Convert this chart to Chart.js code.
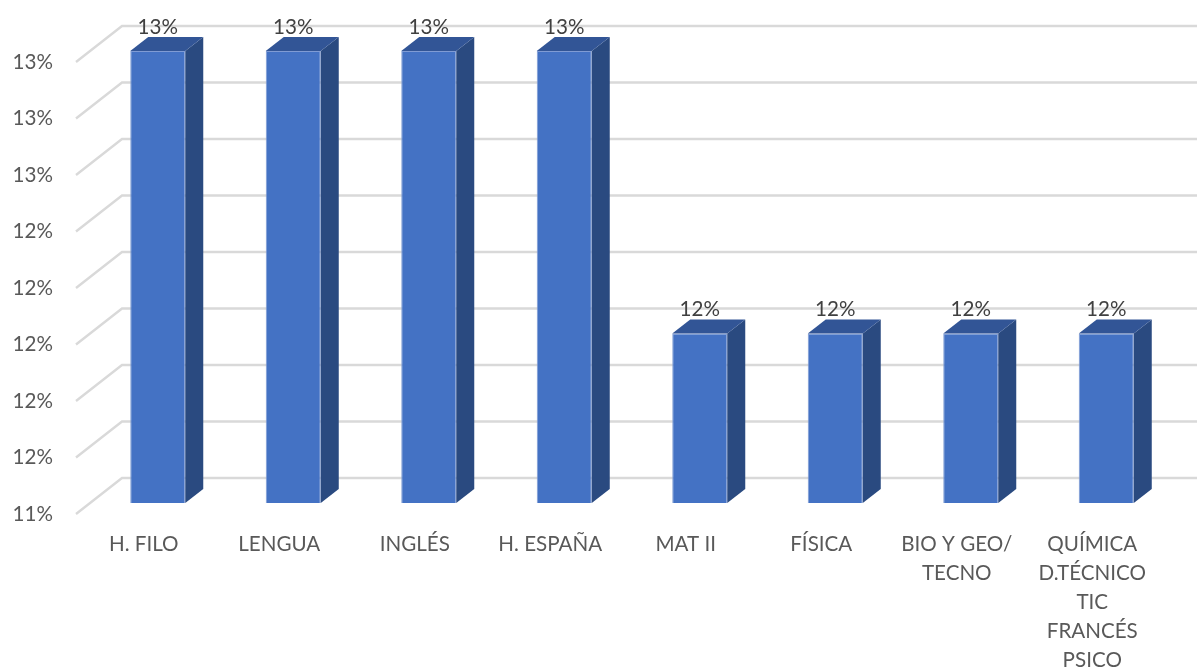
<!DOCTYPE html>
<html lang="es">
<head>
    <meta charset="UTF-8" />
    <title>Asignaturas</title>
    <script src="https://cdn.jsdelivr.net/npm/chart.js"></script>
    <style>
        body { margin: 0; background: white; }
        canvas { display: block; }
    </style>
</head>
<body>
    <canvas id="chart" width="1197" height="671"></canvas>
    <script>
        const categories = [
            "H. FILO", "LENGUA", "INGLÉS", "H. ESPAÑA", "MAT II", "FÍSICA",
            ["BIO Y GEO/", "TECNO"],
            ["QUÍMICA", "D.TÉCNICO", "TIC", "FRANCÉS", "PSICO"]
        ];
        const values = [13, 13, 13, 13, 12, 12, 12, 12];
        const axisMin = 11.4;
        const axisMax = 13;
        const axisStep = 0.2;

        // fake 3D: the chart area is the front plane, wall sits behind it
        const wallDx = 46, wallDy = -36;
        const barDx = 14, barDy = -11;
        const depthX = 18, depthY = -14;

        const wall3d = {
            id: "wall3d",
            beforeDatasetsDraw(chart) {
                const ctx = chart.ctx, y = chart.scales.y, left = chart.chartArea.left;
                ctx.save();
                ctx.strokeStyle = "#d9d9d9";
                ctx.lineWidth = 2.4;
                y.ticks.forEach((t, i) => {
                    const py = y.getPixelForTick(i);
                    ctx.beginPath();
                    ctx.moveTo(left, py);
                    ctx.lineTo(left + wallDx, py + wallDy);
                    ctx.lineTo(chart.width, py + wallDy);
                    ctx.stroke();
                });
                ctx.restore();
            }
        };

        const bars3d = {
            id: "bars3d",
            beforeDatasetDraw(chart) {
                chart.ctx.save();
                chart.ctx.translate(barDx, barDy);
            },
            afterDatasetDraw(chart) {
                const ctx = chart.ctx;
                chart.getDatasetMeta(0).data.forEach((bar, i) => {
                    const l = bar.x - bar.width / 2, r = bar.x + bar.width / 2;
                    // side face
                    ctx.fillStyle = "#2a4a80";
                    ctx.beginPath();
                    ctx.moveTo(r, bar.y);
                    ctx.lineTo(r + depthX, bar.y + depthY);
                    ctx.lineTo(r + depthX, bar.base + depthY);
                    ctx.lineTo(r, bar.base);
                    ctx.closePath();
                    ctx.fill();
                    // top face
                    ctx.fillStyle = "#325596";
                    ctx.beginPath();
                    ctx.moveTo(l, bar.y);
                    ctx.lineTo(l + depthX, bar.y + depthY);
                    ctx.lineTo(r + depthX, bar.y + depthY);
                    ctx.lineTo(r, bar.y);
                    ctx.closePath();
                    ctx.fill();
                    // data label
                    ctx.fillStyle = "#404040";
                    ctx.font = "20.6px Lato";
                    ctx.textAlign = "center";
                    ctx.textBaseline = "middle";
                    ctx.fillText(values[i] + "%", bar.x, bar.y - 24);
                });
                ctx.restore();
            }
        };

        new Chart(document.getElementById("chart"), {
            type: "bar",
            data: {
                labels: categories,
                datasets: [{
                    data: values,
                    base: axisMin,
                    backgroundColor: "#4472c4",
                    borderColor: "#7f9bd4",
                    borderWidth: 1,
                    barPercentage: 0.406,
                    categoryPercentage: 1
                }]
            },
            options: {
                responsive: false,
                animation: false,
                layout: { padding: { top: 62, right: 37 } },
                plugins: { legend: { display: false }, tooltip: { enabled: false } },
                scales: {
                    x: {
                        grid: { display: false, drawTicks: false },
                        border: { display: false },
                        afterFit: s => { s.height = 157; },
                        ticks: {
                            autoSkip: false,
                            maxRotation: 0,
                            padding: 16,
                            color: "#595959",
                            font: { family: "Lato", size: 20.6, lineHeight: 1.41 }
                        }
                    },
                    y: {
                        min: axisMin,
                        max: axisMax,
                        grid: { display: false, drawTicks: false },
                        border: { display: false },
                        afterFit: s => { s.width = 76; },
                        ticks: {
                            stepSize: axisStep,
                            padding: 23,
                            color: "#595959",
                            font: { family: "Lato", size: 20.6 },
                            callback: v => Math.round(v) + "%"
                        }
                    }
                }
            },
            plugins: [wall3d, bars3d]
        });
    </script>
</body>
</html>
